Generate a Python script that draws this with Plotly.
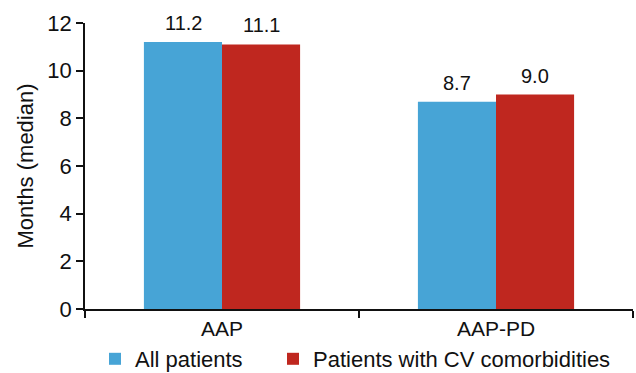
import plotly.graph_objects as go

categories = ["AAP", "AAP-PD"]
all_patients = [11.2, 8.7]
cv_patients = [11.1, 9.0]
series_names = ["All patients", "Patients with CV comorbidities"]
y_ticks = [0, 2, 4, 6, 8, 10, 12]

BLUE = "#47A4D6"
RED = "#BF271F"
FONT = "Liberation Sans, Arial, Helvetica, sans-serif"
INK = "#111111"

fig = go.Figure()
fig.add_trace(go.Bar(x=categories, y=all_patients, name=series_names[0],
                     marker=dict(color=BLUE, line=dict(width=0)), legend="legend"))
fig.add_trace(go.Bar(x=categories, y=cv_patients, name=series_names[1],
                     marker=dict(color=RED, line=dict(width=0)), legend="legend2"))

annotations = []
for vals, shift in ((all_patients, -39), (cv_patients, 39)):
    for c, v in zip(categories, vals):
        annotations.append(dict(x=c, y=v, xref="x", yref="y", text=f"{v:.1f}",
                                showarrow=False, xshift=shift, yshift=6,
                                yanchor="bottom", xanchor="center",
                                font=dict(size=20, color=INK, family=FONT)))

legend_common = dict(orientation="h", xref="container", yref="container",
                     xanchor="left", yanchor="middle", y=1 - 359 / 373,
                     font=dict(size=22, family=FONT, color=INK),
                     bgcolor="rgba(0,0,0,0)", itemclick=False)

fig.update_layout(
    width=636, height=373,
    margin=dict(l=85, r=3, t=23, b=64, autoexpand=False),
    paper_bgcolor="white", plot_bgcolor="white",
    barmode="group", bargap=0.43, bargroupgap=0,
    font=dict(family=FONT, size=22, color=INK),
    annotations=annotations,
    showlegend=True,
    legend=dict(legend_common, x=95 / 636),
    legend2=dict(legend_common, x=273 / 636),
    xaxis=dict(showline=True, linecolor=INK, linewidth=1.5, automargin=False,
               ticks="outside", tickson="boundaries", ticklen=7, tickwidth=1.5,
               tickcolor=INK, showgrid=False, zeroline=False,
               tickfont=dict(size=21)),
    yaxis=dict(range=[0, 12], tickvals=y_ticks, showline=True, linecolor=INK,
               linewidth=1.5, ticks="outside", ticklen=7, tickwidth=1.5, automargin=False,
               tickcolor=INK, showgrid=False, zeroline=False,
               title=dict(text="Months (median)", font=dict(size=22), standoff=8),
               tickfont=dict(size=22)),
)

fig.write_html("out.html", config={"displayModeBar": False},
               post_script="document.body.style.margin='0';document.body.style.padding='0';")
